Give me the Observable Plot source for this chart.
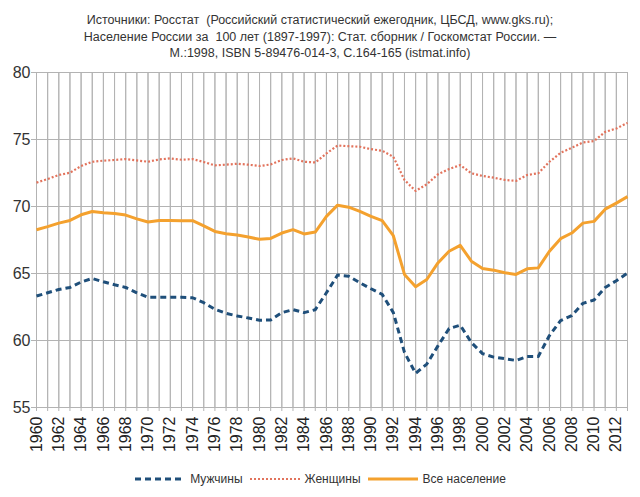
<!DOCTYPE html>
<html>
<head>
<meta charset="utf-8">
<script src="https://cdn.jsdelivr.net/npm/d3@7"></script>
<script src="https://cdn.jsdelivr.net/npm/@observablehq/plot@0.6"></script>
<style>
  body { margin: 0; background: #fff; font-family: "Liberation Sans", Arial, sans-serif; }
  #wrap { width: 640px; }
  #title { height: 64px; box-sizing: border-box; padding-top: 12px; text-align: center; font-size: 12.5px; line-height: 16.5px; color: #333; }
  #legend { display: flex; justify-content: center; align-items: center; gap: 6px; font-size: 12px; color: #333; padding-top: 13px; }
  #legend span.item { display: flex; align-items: center; gap: 4px; }
</style>
</head>
<body>
<div id="wrap">
  <div id="title">Источники: Росстат&nbsp; (Российский статистический ежегодник, ЦБСД, www.gks.ru);<br>Население России за&nbsp; 100 лет (1897-1997): Стат. сборник / Госкомстат России. —<br>М.:1998, ISBN 5-89476-014-3, С.164-165 (istmat.info)</div>
  <div id="chart"></div>
  <div id="legend"></div>
</div>
<script>
const years = d3.range(1960, 2014);
const men = [63.32, 63.56, 63.81, 63.96, 64.36, 64.63, 64.38, 64.16, 63.96, 63.56,
  63.22, 63.22, 63.22, 63.22, 63.19, 62.82, 62.33, 62.03, 61.83, 61.68,
  61.51, 61.53, 62.08, 62.30, 62.08, 62.30, 63.56, 64.88, 64.80, 64.31,
  63.86, 63.44, 62.08, 59.11, 57.55, 58.24, 59.60, 60.89, 61.14, 59.85,
  59.02, 58.76, 58.64, 58.51, 58.81, 58.81, 60.37, 61.49, 61.86, 62.77,
  63.02, 63.96, 64.46, 65.03];
const women = [71.78, 72.05, 72.35, 72.52, 73.02, 73.34, 73.42, 73.47, 73.54, 73.44,
  73.34, 73.51, 73.59, 73.49, 73.54, 73.32, 73.07, 73.12, 73.19, 73.12,
  73.02, 73.14, 73.47, 73.59, 73.34, 73.29, 73.96, 74.55, 74.50, 74.46,
  74.28, 74.16, 73.71, 71.98, 71.16, 71.66, 72.40, 72.80, 73.09, 72.48,
  72.28, 72.15, 71.98, 71.91, 72.35, 72.48, 73.34, 74.01, 74.38, 74.78,
  74.88, 75.57, 75.82, 76.24];
const total = [68.27, 68.50, 68.76, 68.96, 69.38, 69.63, 69.53, 69.48, 69.36, 69.08,
  68.84, 68.96, 68.96, 68.94, 68.94, 68.56, 68.14, 67.97, 67.87, 67.72,
  67.55, 67.62, 68.02, 68.27, 67.95, 68.09, 69.26, 70.10, 69.95, 69.63,
  69.26, 68.94, 67.82, 64.93, 64.01, 64.55, 65.79, 66.66, 67.10, 65.92,
  65.38, 65.25, 65.05, 64.93, 65.35, 65.42, 66.66, 67.60, 68.02, 68.76,
  68.89, 69.80, 70.25, 70.74];
const seriesNames = ["Мужчины", "Женщины", "Все население"];
const yTicks = [55, 60, 65, 70, 75, 80];
const xLabelYears = d3.range(1960, 2013, 2);

const styles = {
  "Мужчины": {stroke: "#1f4f7a", strokeWidth: 3, dash: "6,4"},
  "Женщины": {stroke: "#e2735c", strokeWidth: 2.2, dash: "2,2"},
  "Все население": {stroke: "#f4a12e", strokeWidth: 3, dash: null}
};

const rows = (vals) => years.map((y, i) => ({year: y, value: vals[i]}));
const lineMark = (name, vals) => Plot.line(rows(vals), {
  x: "year", y: "value", stroke: styles[name].stroke, strokeWidth: styles[name].strokeWidth,
  strokeDasharray: styles[name].dash, strokeLinejoin: "round", strokeLinecap: "butt"
});

const chart = Plot.plot({
  width: 640,
  height: 395,
  marginTop: 8,
  marginLeft: 36,
  marginRight: 13,
  marginBottom: 52,
  style: {fontFamily: "Liberation Sans, Arial, sans-serif", color: "#333"},
  x: {domain: [1960, 2013]},
  y: {domain: [55, 80]},
  marks: [
    Plot.gridX(years, {stroke: "#b3b3b3", strokeOpacity: 1, strokeWidth: 1}),
    Plot.gridY(yTicks, {stroke: "#b3b3b3", strokeOpacity: 1, strokeWidth: 1}),
    Plot.tickX(years, {x: d => d, y1: 55, y2: 55, insetBottom: -4, stroke: "#b3b3b3"}),
    Plot.axisX(xLabelYears, {tickRotate: -90, tickSize: 0, tickPadding: 9, tickFormat: d => String(d), fontSize: 16, label: null, fill: "#222"}),
    Plot.axisY(yTicks, {tickSize: 5, stroke: "#b3b3b3", tickPadding: 1, fontSize: 16, label: null, fill: "#333"}),
    lineMark("Мужчины", men),
    lineMark("Женщины", women),
    lineMark("Все население", total)
  ]
});
document.getElementById("chart").appendChild(chart);

const legend = document.getElementById("legend");
for (const name of seriesNames) {
  const s = styles[name];
  const item = document.createElement("span");
  item.className = "item";
  item.innerHTML = `<svg width="52" height="8"><line x1="1" y1="4" x2="51" y2="4" stroke="${s.stroke}" stroke-width="${s.strokeWidth}" ${s.dash ? `stroke-dasharray="${s.dash}"` : ""}/></svg><span>${name}</span>`;
  legend.appendChild(item);
}
</script>
</body>
</html>
